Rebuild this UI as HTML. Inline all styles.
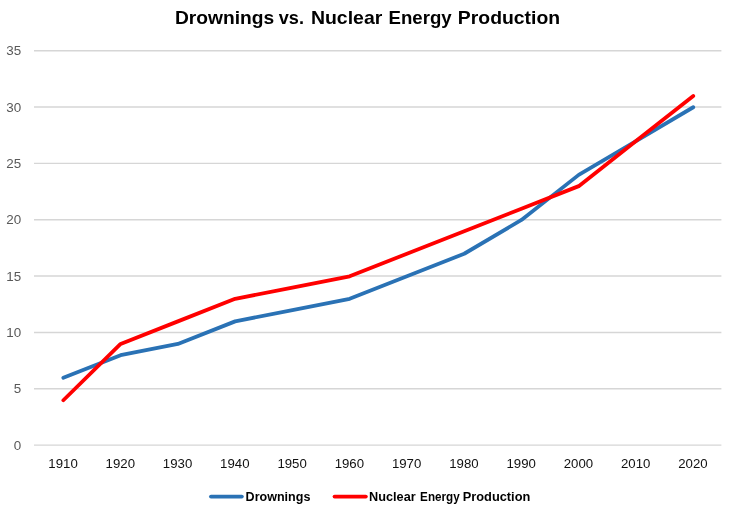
<!DOCTYPE html>
<html lang="en"><head><meta charset="utf-8"><title>Drownings vs. Nuclear Energy Production</title>
<style>html,body{margin:0;padding:0;background:#fff;}body{width:730px;height:513px;overflow:hidden;}svg{display:block;}text{font-family:"Liberation Sans",sans-serif;}</style></head><body>
<svg width="730" height="513" viewBox="0 0 730 513">
<rect width="730" height="513" fill="#ffffff"/>
<text y="23.9" font-size="18.2" font-weight="bold" fill="#000"><tspan x="174.96" textLength="99.16" lengthAdjust="spacingAndGlyphs">Drownings</tspan> <tspan x="278.76" textLength="25.21" lengthAdjust="spacingAndGlyphs">vs.</tspan> <tspan x="310.92" textLength="71.39" lengthAdjust="spacingAndGlyphs">Nuclear</tspan> <tspan x="388.58" textLength="63.11" lengthAdjust="spacingAndGlyphs">Energy</tspan> <tspan x="457.88" textLength="102.20" lengthAdjust="spacingAndGlyphs">Production</tspan></text>
<g stroke="#d6d6d6" stroke-width="1.45">
<line x1="34.0" x2="721.4" y1="445.10" y2="445.10"/>
<line x1="34.0" x2="721.4" y1="388.75" y2="388.75"/>
<line x1="34.0" x2="721.4" y1="332.40" y2="332.40"/>
<line x1="34.0" x2="721.4" y1="276.05" y2="276.05"/>
<line x1="34.0" x2="721.4" y1="219.70" y2="219.70"/>
<line x1="34.0" x2="721.4" y1="163.35" y2="163.35"/>
<line x1="34.0" x2="721.4" y1="107.00" y2="107.00"/>
<line x1="34.0" x2="721.4" y1="50.65" y2="50.65"/>
</g>
<g font-size="12.2" fill="#595959" text-anchor="end" transform="translate(21.3 0) scale(1.1 1)">
<text x="0" y="449.70">0</text>
<text x="0" y="393.35">5</text>
<text x="0" y="337.00">10</text>
<text x="0" y="280.65">15</text>
<text x="0" y="224.30">20</text>
<text x="0" y="167.95">25</text>
<text x="0" y="111.60">30</text>
<text x="0" y="55.25">35</text>
</g>
<g font-size="12.8" fill="#111" text-anchor="middle">
<text x="63.05" y="468.4" textLength="29.4" lengthAdjust="spacingAndGlyphs">1910</text>
<text x="120.31" y="468.4" textLength="29.4" lengthAdjust="spacingAndGlyphs">1920</text>
<text x="177.58" y="468.4" textLength="29.4" lengthAdjust="spacingAndGlyphs">1930</text>
<text x="234.84" y="468.4" textLength="29.4" lengthAdjust="spacingAndGlyphs">1940</text>
<text x="292.10" y="468.4" textLength="29.4" lengthAdjust="spacingAndGlyphs">1950</text>
<text x="349.37" y="468.4" textLength="29.4" lengthAdjust="spacingAndGlyphs">1960</text>
<text x="406.63" y="468.4" textLength="29.4" lengthAdjust="spacingAndGlyphs">1970</text>
<text x="463.90" y="468.4" textLength="29.4" lengthAdjust="spacingAndGlyphs">1980</text>
<text x="521.16" y="468.4" textLength="29.4" lengthAdjust="spacingAndGlyphs">1990</text>
<text x="578.42" y="468.4" textLength="29.4" lengthAdjust="spacingAndGlyphs">2000</text>
<text x="635.69" y="468.4" textLength="29.4" lengthAdjust="spacingAndGlyphs">2010</text>
<text x="692.95" y="468.4" textLength="29.4" lengthAdjust="spacingAndGlyphs">2020</text>
</g>
<polyline points="63.35,377.73 120.61,355.19 177.88,343.92 235.14,321.38 292.40,310.11 349.67,298.84 406.93,276.30 464.20,253.76 521.46,219.95 578.72,174.87 635.99,141.06 693.25,107.25" fill="none" stroke="#2a72b5" stroke-width="3.8" stroke-linecap="round" stroke-linejoin="round"/>
<polyline points="63.35,400.27 120.61,343.92 177.88,321.38 235.14,298.84 292.40,287.57 349.67,276.30 406.93,253.76 464.20,231.22 521.46,208.68 578.72,186.14 635.99,141.06 693.25,95.98" fill="none" stroke="#ff0000" stroke-width="3.8" stroke-linecap="round" stroke-linejoin="round"/>
<line x1="211" x2="241.8" y1="496.6" y2="496.6" stroke="#2a72b5" stroke-width="3.9" stroke-linecap="round"/>
<text x="245.6" y="500.7" font-size="12.5" font-weight="bold" fill="#000" textLength="64.8" lengthAdjust="spacingAndGlyphs">Drownings</text>
<line x1="334.6" x2="365.8" y1="496.6" y2="496.6" stroke="#ff0000" stroke-width="3.9" stroke-linecap="round"/>
<text y="500.7" font-size="12.5" font-weight="bold" fill="#000"><tspan x="369.10" textLength="46.59" lengthAdjust="spacingAndGlyphs">Nuclear</tspan> <tspan x="420.11" textLength="39.52" lengthAdjust="spacingAndGlyphs">Energy</tspan> <tspan x="462.78" textLength="67.55" lengthAdjust="spacingAndGlyphs">Production</tspan></text>
</svg></body></html>
